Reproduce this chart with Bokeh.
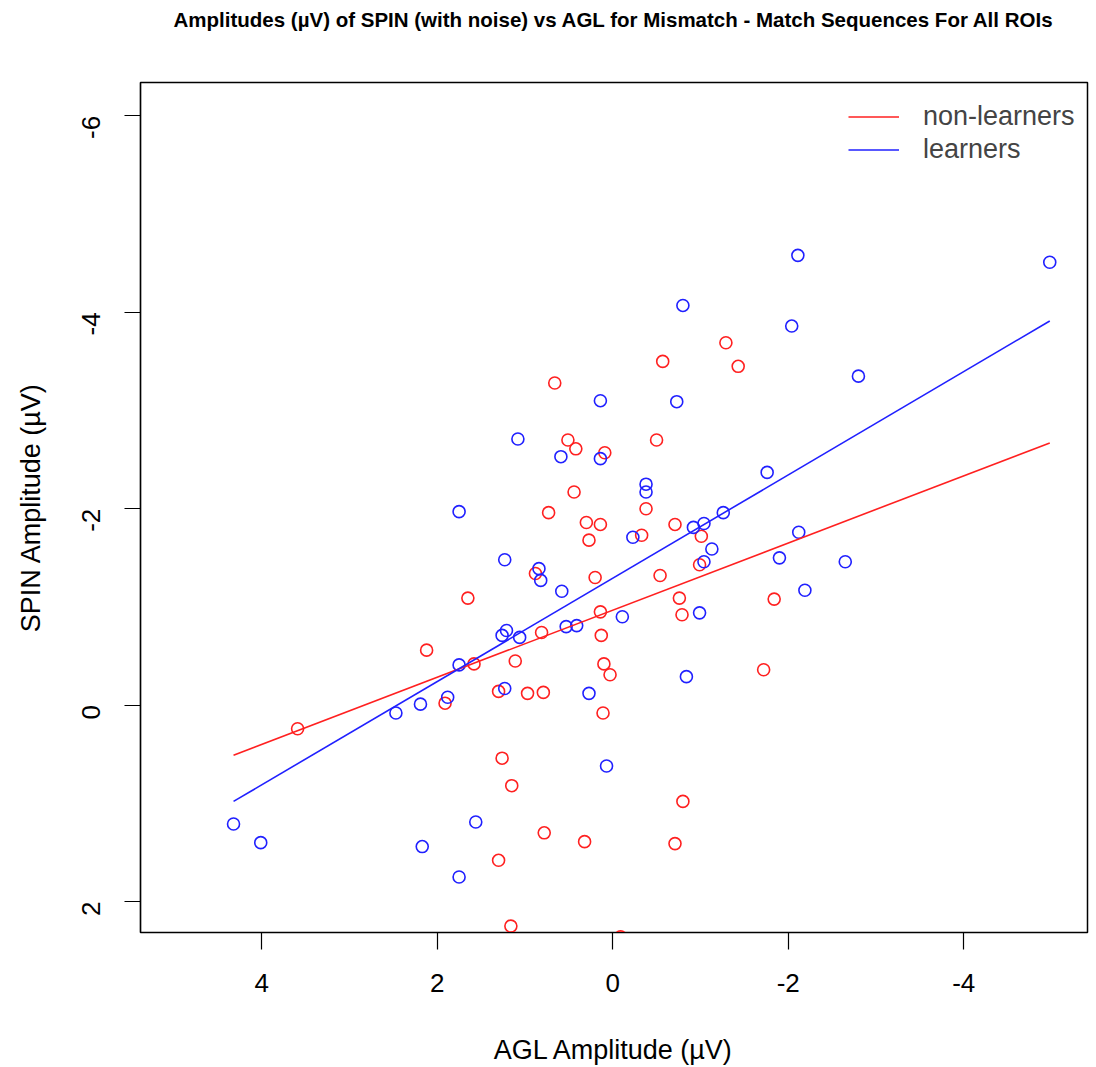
import math
from bokeh.plotting import figure
from bokeh.models import Range1d, FixedTicker, Title, Legend, LegendItem
from bokeh.embed import file_html
from bokeh.resources import INLINE

title_text = "Amplitudes (\u00b5V) of SPIN (with noise) vs AGL for Mismatch - Match Sequences For All ROIs"
x_label = "AGL Amplitude (\u00b5V)"
y_label = "SPIN Amplitude (\u00b5V)"
x_ticks = [4, 2, 0, -2, -4]
y_ticks = [-6, -4, -2, 0, 2]

nl_x = [0.66, -1.29, -1.43, -0.57, 0.51, 0.42, 0.09, -0.50, 0.44, 0.73, 0.30, 0.14, -0.38, 0.27,
        -0.33, -0.71, -1.01, -0.99, 0.20, 0.88, -0.54, 1.65, -0.76, -1.84, 0.14, -0.79, 0.81, 0.13,
        2.12, 1.11, 1.58, 0.10, -1.72, 0.03, 1.30, 0.97, 0.79, 1.91, 0.11, 3.59, 1.26, 1.15, -0.80,
        0.78, 0.32, -0.71, 1.30, 1.16, -0.09]
nl_y = [-3.28, -3.69, -3.45, -3.50, -2.70, -2.61, -2.57, -2.70, -2.17, -1.96, -1.86, -1.84, -2.00, -1.68,
        -1.73, -1.84, -1.72, -1.43, -1.30, -1.34, -1.32, -1.09, -1.09, -1.08, -0.95, -0.92, -0.74, -0.71,
        -0.56, -0.45, -0.42, -0.42, -0.36, -0.31, -0.14, -0.12, -0.13, -0.02, 0.08, 0.24, 0.54, 0.82, 0.98,
        1.30, 1.39, 1.41, 1.58, 2.25, 2.36]

l_x = [-0.80, 0.14, -0.73, 1.08, 0.59, 0.14, -1.76, -0.38, -0.38, 1.75, -0.23, -0.92, -1.04, -1.26,
       -1.13, -1.04, -1.90, 1.23, 0.84, 0.82, 0.58, -0.99, -0.11, 0.53, 0.41, 1.21, 1.26, 1.06, 1.75,
       -0.84, 1.23, 0.27, 1.88, 2.19, 2.47, 0.07, 1.56, 4.32, 4.01, 2.17, 1.75, -2.11, -4.98, -2.04,
       -2.80, -2.12, -2.65, -2.19]
l_y = [-4.07, -3.10, -3.09, -2.71, -2.53, -2.51, -2.37, -2.25, -2.17, -1.97, -1.71, -1.81, -1.85, -1.96,
       -1.59, -1.46, -1.50, -1.48, -1.39, -1.27, -1.16, -0.94, -0.90, -0.80, -0.81, -0.76, -0.71, -0.69,
       -0.41, -0.29, -0.17, -0.12, -0.08, -0.01, 0.08, 0.62, 1.19, 1.21, 1.40, 1.44, 1.75, -4.58, -4.51,
       -3.86, -3.35, -1.76, -1.46, -1.17]

# fitted regression lines (intercept, slope)
nl_fit = (-0.967, 0.342)
l_fit = (-1.292, 0.526)

series_names = ["non-learners", "learners"]
series_colors = ["#FF2020", "#2020FF"]

FONT = "Liberation Sans"

p = figure(width=1096, height=1067, output_backend="svg", toolbar_location=None,
           x_range=Range1d(5.38, -5.41), y_range=Range1d(2.315, -6.34),
           min_border_left=140, min_border_right=9, min_border_top=82, min_border_bottom=135)
p.xgrid.visible = False
p.ygrid.visible = False
p.outline_line_color = "black"
p.outline_line_width = 1.5
p.background_fill_color = "white"
p.border_fill_color = "white"

spacer = Title(text=" ", align="center", vertical_align="middle", text_font=FONT,
               text_font_size="20.5px", text_color="white", standoff=26)
title = Title(text=title_text, align="center", vertical_align="middle", text_font=FONT,
              text_font_size="20.5px", text_font_style="bold", text_color="black", standoff=0)
p.add_layout(spacer, "above")
p.add_layout(title, "above")

for ax in (p.xaxis[0], p.yaxis[0]):
    ax.axis_line_color = "black"
    ax.axis_line_width = 1.2
    ax.major_tick_line_width = 1.2
    ax.major_tick_in = 0
    ax.minor_tick_line_color = None
    ax.major_label_text_font = FONT
    ax.major_label_text_font_size = "26px"
    ax.major_label_text_color = "black"
    ax.axis_label_text_font = FONT
    ax.axis_label_text_font_size = "27px"
    ax.axis_label_text_font_style = "normal"
    ax.axis_label_text_color = "black"

p.xaxis[0].ticker = FixedTicker(ticks=x_ticks)
p.yaxis[0].ticker = FixedTicker(ticks=y_ticks)
p.xaxis[0].major_label_overrides = {t: str(t) for t in x_ticks}
p.yaxis[0].major_label_overrides = {t: str(t) for t in y_ticks}
p.xaxis[0].axis_label = x_label
p.yaxis[0].axis_label = y_label
p.xaxis[0].major_tick_out = 17
p.yaxis[0].major_tick_out = 16
p.xaxis[0].major_label_standoff = 24
p.xaxis[0].axis_label_standoff = 40
p.yaxis[0].major_label_orientation = math.pi / 2
p.yaxis[0].major_label_standoff = 33
p.yaxis[0].axis_label_standoff = 25

r_nl = p.scatter(nl_x, nl_y, marker="circle", size=12, fill_color=None,
                 line_color=series_colors[0], line_width=1.6)
r_l = p.scatter(l_x, l_y, marker="circle", size=12, fill_color=None,
                line_color=series_colors[1], line_width=1.6)

all_x = nl_x + l_x
x0, x1 = max(all_x), min(all_x)
ln_nl = p.line([x0, x1], [nl_fit[0] + nl_fit[1] * x0, nl_fit[0] + nl_fit[1] * x1],
               line_color=series_colors[0], line_width=1.6)
ln_l = p.line([x0, x1], [l_fit[0] + l_fit[1] * x0, l_fit[0] + l_fit[1] * x1],
              line_color=series_colors[1], line_width=1.6)

legend = Legend(items=[LegendItem(label=series_names[0], renderers=[ln_nl]),
                       LegendItem(label=series_names[1], renderers=[ln_l])],
                location=(708, 766), border_line_color=None, background_fill_alpha=0,
                label_text_font=FONT, label_text_font_size="27px", glyph_width=51,
                glyph_height=33, label_height=33, label_standoff=24, spacing=0,
                padding=0, margin=0)
p.add_layout(legend, "center")

open("out.html", "w").write(file_html(p, INLINE))
